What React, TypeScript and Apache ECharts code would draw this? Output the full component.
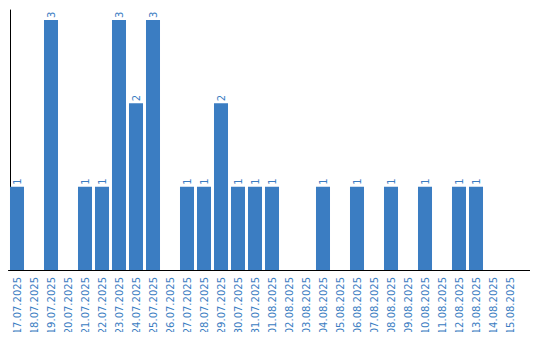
import React, { useEffect, useRef } from "react";
import * as echarts from "echarts";

const categories = [
  "17.07.2025", "18.07.2025", "19.07.2025", "20.07.2025", "21.07.2025",
  "22.07.2025", "23.07.2025", "24.07.2025", "25.07.2025", "26.07.2025",
  "27.07.2025", "28.07.2025", "29.07.2025", "30.07.2025", "31.07.2025",
  "01.08.2025", "02.08.2025", "03.08.2025", "04.08.2025", "05.08.2025",
  "06.08.2025", "07.08.2025", "08.08.2025", "09.08.2025", "10.08.2025",
  "11.08.2025", "12.08.2025", "13.08.2025", "14.08.2025", "15.08.2025",
];
const counts = [
  1, 0, 3, 0, 1, 1, 3, 2, 3, 0,
  1, 1, 2, 1, 1, 1, 0, 0, 1, 0,
  1, 0, 1, 0, 1, 0, 1, 1, 0, 0,
];

const BLUE = "#3b7dc2";
const FONT = "DejaVu Sans";

export default function App() {
  const ref = useRef<HTMLDivElement>(null);
  useEffect(() => {
    const chart = echarts.init(ref.current!, null, { renderer: "svg" });
    chart.setOption({
      animation: false,
      textStyle: { fontFamily: FONT },
      grid: {
        left: 8.5,
        top: 10,
        width: 510,
        height: 260,
        containLabel: false,
        outerBoundsMode: "none",
      },
      xAxis: {
        type: "category",
        data: categories,
        axisLine: { lineStyle: { color: "#000", width: 1 } },
        axisTick: { show: false },
        axisLabel: {
          interval: 0,
          rotate: 90,
          color: BLUE,
          fontSize: 10,
          fontFamily: FONT,
          margin: 7,
        },
      },
      yAxis: {
        type: "value",
        min: 0,
        max: 3.12,
        offset: -1.5,
        axisLine: { show: true, lineStyle: { color: "#000", width: 1 } },
        axisTick: { show: false },
        axisLabel: { show: false },
        splitLine: { show: false },
      },
      graphic: [
        {
          type: "line",
          shape: { x1: 518, y1: 270.5, x2: 530, y2: 270.5 },
          style: { stroke: "#000", lineWidth: 1 },
        },
      ],
      series: [
        {
          type: "bar",
          data: counts,
          barCategoryGap: "17.6%",
          itemStyle: { color: BLUE },
          label: {
            show: true,
            position: "top",
            rotate: 90,
            align: "left",
            verticalAlign: "middle",
            distance: 2,
            color: BLUE,
            fontSize: 10,
            fontFamily: FONT,
            formatter: (p: any) => (p.value > 0 ? String(p.value) : ""),
          },
        },
      ],
    });
    return () => chart.dispose();
  }, []);
  return <div ref={ref} style={{ width: 540, height: 340, margin: -8 }} />;
}
